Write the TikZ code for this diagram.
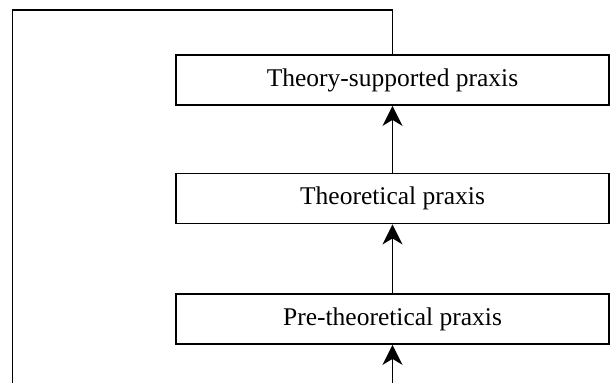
\documentclass[tikz,border=0pt]{standalone}
\usepackage{fontspec}
\setmainfont{Liberation Serif}
\usepackage{tikz}
\usetikzlibrary{arrows.meta,positioning}

\begin{document}
\begin{tikzpicture}[x = .5pt, y = -.5pt, line width = .9pt,
  praxisbox/.style = {draw, minimum width = 216.5pt, minimum height = 25pt,
    inner sep = 0pt, font = \fontsize{12.75}{15}\selectfont},
  up/.style = {-{Stealth[length = 10pt, width = 10pt, inset = 3pt]}}]
%\draw (0,0) grid (610,383);
\useasboundingbox (0,0) rectangle (610,383);
\node[praxisbox] (tsp) at (392.5, 80) {Theory-supported praxis};
\node[praxisbox] (tp) at (392.5, 198.5) {Theoretical praxis};
\node[praxisbox] (ptp) at (392.5, 319) {Pre-theoretical praxis};
\coordinate (loopend) at (12.5, 383);
\coordinate (loopstart) at (392.5, 383);
\draw (tsp.north) |- (12.5, 10) -- (loopend);
\draw[up] (loopstart) -- (ptp.south);
\draw[up] (ptp.north) -- (tp.south);
\draw[up] (tp.north) -- (tsp.south);
\end{tikzpicture}
\end{document}
